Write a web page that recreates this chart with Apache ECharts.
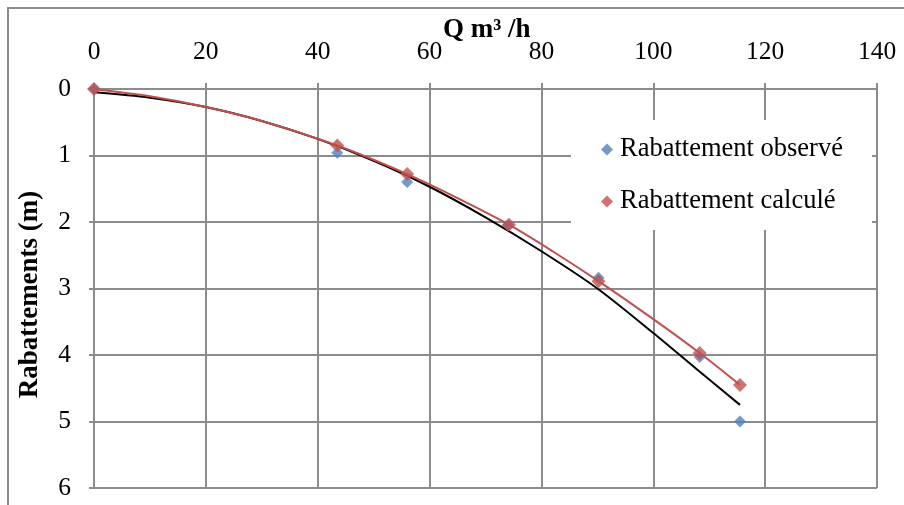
<!DOCTYPE html>
<html>
<head>
<meta charset="utf-8">
<script src="https://cdn.jsdelivr.net/npm/echarts@6/dist/echarts.min.js"></script>
<style>
  html, body { margin: 0; padding: 0; background: #fff; }
  #chart { width: 904px; height: 505px; }
</style>
</head>
<body>
<div id="chart"></div>
<script>
// Pumping test: drawdown versus discharge
const seriesNames = ['Rabattement observé', 'Rabattement calculé'];
const qAxisTitle = 'Q m³ /h';
const sAxisTitle = 'Rabattements (m)';

// Observed drawdowns (m) at each discharge Q (m³/h)
const observedQ = [0, 43.5, 56, 74, 90.2, 108.3, 115.5];
const observedS = [0, 0.96, 1.40, 2.05, 2.84, 4.03, 5.0];

// Calculated drawdowns (m)
const calculatedQ = [0, 43.5, 56, 74.2, 90.2, 108.3, 115.5];
const calculatedS = [0, 0.85, 1.28, 2.04, 2.89, 3.97, 4.45];

// Smoothed curve joining the calculated drawdowns
const calcCurveQ = [0, 10, 20, 30, 43.5, 56, 65, 74.2, 82, 90.2, 100, 108.3, 115.5];
const calcCurveS = [0, 0.11, 0.27, 0.48, 0.85, 1.28, 1.64, 2.04, 2.44, 2.89, 3.46, 3.97, 4.45];

// Trend curve through the observed drawdowns
const trendQ = [0, 10, 20, 30, 40, 50, 60, 70, 80, 90, 100, 108, 115.5];
const trendS = [0.05, 0.13, 0.27, 0.48, 0.75, 1.08, 1.47, 1.93, 2.44, 3.0, 3.67, 4.23, 4.75];

const qTicks = { min: 0, max: 140, step: 20 };
const sTicks = { min: 0, max: 6, step: 1 };

const pairs = (xs, ys) => xs.map((x, i) => [x, ys[i]]);

const gridColor = '#8c8c8c';
const serif = '"Liberation Serif", "Times New Roman", serif';

const chart = echarts.init(document.getElementById('chart'), null, { renderer: 'canvas' });
chart.setOption({
  backgroundColor: '#ffffff',
  animation: false,
  // Title of the discharge axis, sitting just above its tick labels
  title: {
    text: qAxisTitle,
    left: 443,
    top: 17,
    padding: 0,
    textStyle: { fontFamily: serif, fontWeight: 'bold', fontSize: 27, color: '#000' }
  },
  graphic: [{
    type: 'rect',
    shape: { x: 8, y: 8, width: 1200, height: 1200 },
    style: { fill: 'none', stroke: gridColor, lineWidth: 2 },
    silent: true,
    z: -1
  }],
  grid: { left: 94, right: 27, top: 89, bottom: 17, containLabel: false },
  xAxis: {
    type: 'value',
    position: 'top',
    min: qTicks.min, max: qTicks.max, interval: qTicks.step,
    axisLine: { show: true, lineStyle: { color: gridColor, width: 2 } },
    axisTick: { show: true, inside: false, length: 6, lineStyle: { color: gridColor, width: 2 } },
    axisLabel: { fontFamily: serif, fontSize: 25.5, color: '#000', margin: 24 },
    splitLine: { show: true, lineStyle: { color: gridColor, width: 2 } }
  },
  yAxis: {
    type: 'value',
    inverse: true,
    min: sTicks.min, max: sTicks.max, interval: sTicks.step,
    name: sAxisTitle,
    nameLocation: 'middle',
    nameGap: 50,
    nameRotate: 90,
    nameTextStyle: { fontFamily: serif, fontWeight: 'bold', fontSize: 27, color: '#000', padding: [0, 12, 0, 0] },
    axisLine: { show: true, lineStyle: { color: gridColor, width: 2 } },
    axisTick: { show: true, inside: false, length: 5, lineStyle: { color: gridColor, width: 2 } },
    axisLabel: { fontFamily: serif, fontSize: 25.5, color: '#000', margin: 23, padding: [9, 0, 0, 0] },
    splitLine: { show: true, lineStyle: { color: gridColor, width: 2 } }
  },
  legend: {
    data: [
      { name: seriesNames[0], icon: 'diamond' },
      { name: seriesNames[1], icon: 'diamond' }
    ],
    orient: 'vertical',
    left: 571,
    top: 120,
    padding: [16, 29, 15, 30],
    itemGap: 25,
    itemWidth: 12,
    itemHeight: 12,
    backgroundColor: '#ffffff',
    textStyle: { fontFamily: serif, fontSize: 26.5, color: '#000', padding: [0, 0, 0, 2] },
    z: 10
  },
  series: [
    {
      name: 'trend',
      type: 'line',
      data: pairs(trendQ, trendS),
      smooth: 0.3,
      showSymbol: false,
      symbol: 'none',
      lineStyle: { color: '#000000', width: 2 },
      z: 2
    },
    {
      name: 'calc-curve',
      type: 'line',
      data: pairs(calcCurveQ, calcCurveS),
      smooth: 0.3,
      showSymbol: false,
      symbol: 'none',
      lineStyle: { color: '#c0504d', width: 2 },
      z: 3
    },
    {
      name: seriesNames[0],
      type: 'scatter',
      data: pairs(observedQ, observedS),
      symbol: 'diamond',
      symbolSize: [12, 12],
      itemStyle: { color: '#4f81bd' },
      z: 4
    },
    {
      name: seriesNames[1],
      type: 'scatter',
      data: pairs(calculatedQ, calculatedS),
      symbol: 'diamond',
      symbolSize: [14, 14],
      itemStyle: { color: '#c0504d' },
      z: 5
    }
  ]
});
</script>
</body>
</html>
